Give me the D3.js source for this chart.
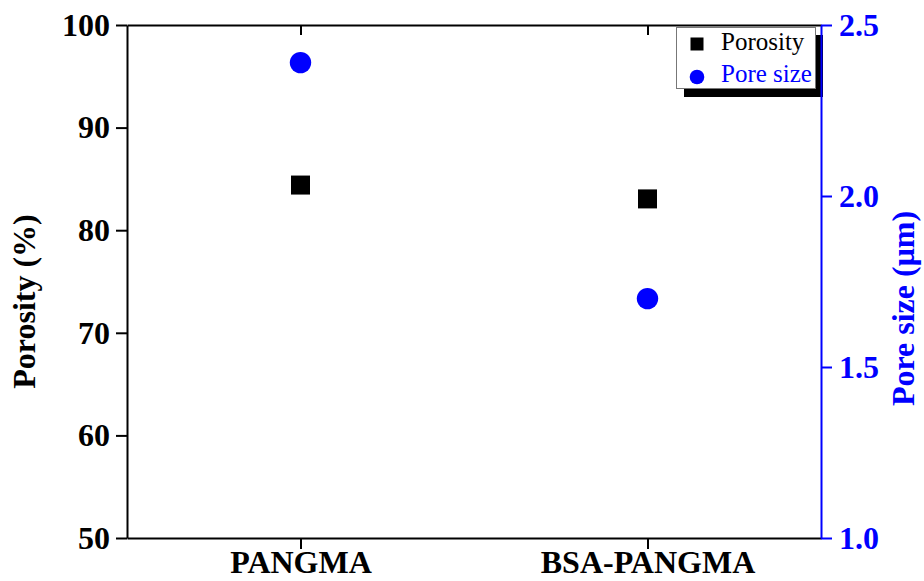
<!DOCTYPE html>
<html>
<head>
<meta charset="utf-8">
<script src="https://cdn.jsdelivr.net/npm/d3@7"></script>
<style>
  html, body { margin: 0; padding: 0; background: #fff; }
  svg { display: block; }
</style>
</head>
<body>
<svg id="chart" width="924" height="581"></svg>
<script>
const categories = ["PANGMA", "BSA-PANGMA"];
const categoryPos = [1, 2];
const porosity = [84.4, 83.05];
const poreSize = [2.39, 1.70];
const leftTicks = [50, 60, 70, 80, 90, 100];
const rightTicks = [1.0, 1.5, 2.0, 2.5];
const seriesNames = ["Porosity", "Pore size"];

const W = 924, H = 581;
const m = { left: 127, right: 821, top: 25, bottom: 538 };
const svg = d3.select("#chart");
const font = "'Liberation Serif', 'Times New Roman', serif";
const blue = "#0000ff";

const x = d3.scaleLinear().domain([0.5, 2.5]).range([m.left, m.right]);
const yL = d3.scaleLinear().domain([50, 100]).range([m.bottom, m.top]);
const yR = d3.scaleLinear().domain([1.0, 2.5]).range([m.bottom, m.top]);

// Legend (drawn before axes so the right axis overlays its shadow)
const lg = svg.append("g");
lg.append("rect").attr("x", 684).attr("y", 35).attr("width", 139).attr("height", 62).attr("fill", "#000");
lg.append("rect").attr("x", 676.5).attr("y", 27.5).attr("width", 139).attr("height", 61)
  .attr("fill", "#fff").attr("stroke", "#777").attr("stroke-width", 1);
lg.append("rect").attr("x", 697 - 6.5).attr("y", 44 - 6.5).attr("width", 13).attr("height", 13).attr("fill", "#000");
lg.append("circle").attr("cx", 697).attr("cy", 77).attr("r", 7.3).attr("fill", blue);
lg.append("text").attr("x", 721).attr("y", 50).text(seriesNames[0])
  .attr("font-family", font).attr("font-size", 25).attr("fill", "#000");
lg.append("text").attr("x", 721).attr("y", 82).text(seriesNames[1])
  .attr("font-family", font).attr("font-size", 25).attr("fill", blue);

function styleAxis(g, color) {
  g.selectAll("path.domain").attr("stroke", color).attr("stroke-width", 2);
  g.selectAll(".tick line").attr("stroke", color).attr("stroke-width", 2);
  g.selectAll(".tick text").attr("fill", color).attr("font-family", font)
    .attr("font-size", 32).attr("font-weight", "bold");
}

// Top axis (inward ticks, no labels)
const gTop = svg.append("g").attr("transform", `translate(0,${m.top})`)
  .call(d3.axisTop(x).tickValues(categoryPos).tickSizeInner(-10).tickSizeOuter(0).tickFormat(""));
styleAxis(gTop, "#000");

// Bottom axis
const gBot = svg.append("g").attr("transform", `translate(0,${m.bottom})`)
  .call(d3.axisBottom(x).tickValues(categoryPos).tickSize(11).tickSizeOuter(0).tickPadding(1)
    .tickFormat((d, i) => categories[i]));
styleAxis(gBot, "#000");

// Left axis
const gL = svg.append("g").attr("transform", `translate(${m.left},0)`)
  .call(d3.axisLeft(yL).tickValues(leftTicks).tickSize(11).tickSizeOuter(0).tickPadding(6).tickFormat(d3.format("d")));
styleAxis(gL, "#000");

// Right axis
const gR = svg.append("g").attr("transform", `translate(${m.right},0)`)
  .call(d3.axisRight(yR).tickValues(rightTicks).tickSize(11).tickSizeOuter(0).tickPadding(7).tickFormat(d3.format(".1f")));
styleAxis(gR, blue);

// Axis titles
svg.append("text").attr("transform", "translate(35,301.5) rotate(-90)")
  .attr("text-anchor", "middle").attr("font-family", font).attr("font-size", 32)
  .attr("font-weight", "bold").attr("fill", "#000").text("Porosity (%)");
svg.append("text").attr("transform", "translate(914,308.5) rotate(-90)")
  .attr("text-anchor", "middle").attr("font-family", font).attr("font-size", 32)
  .attr("font-weight", "bold").attr("fill", blue).text("Pore size (μm)");

// Data marks
const s = 19;
svg.append("g").selectAll("rect").data(porosity).join("rect")
  .attr("x", (d, i) => x(categoryPos[i]) - s / 2)
  .attr("y", d => yL(d) - s / 2)
  .attr("width", s).attr("height", s).attr("fill", "#000");
svg.append("g").selectAll("circle").data(poreSize).join("circle")
  .attr("cx", (d, i) => x(categoryPos[i]))
  .attr("cy", d => yR(d))
  .attr("r", 10.7).attr("fill", blue);
</script>
</body>
</html>
